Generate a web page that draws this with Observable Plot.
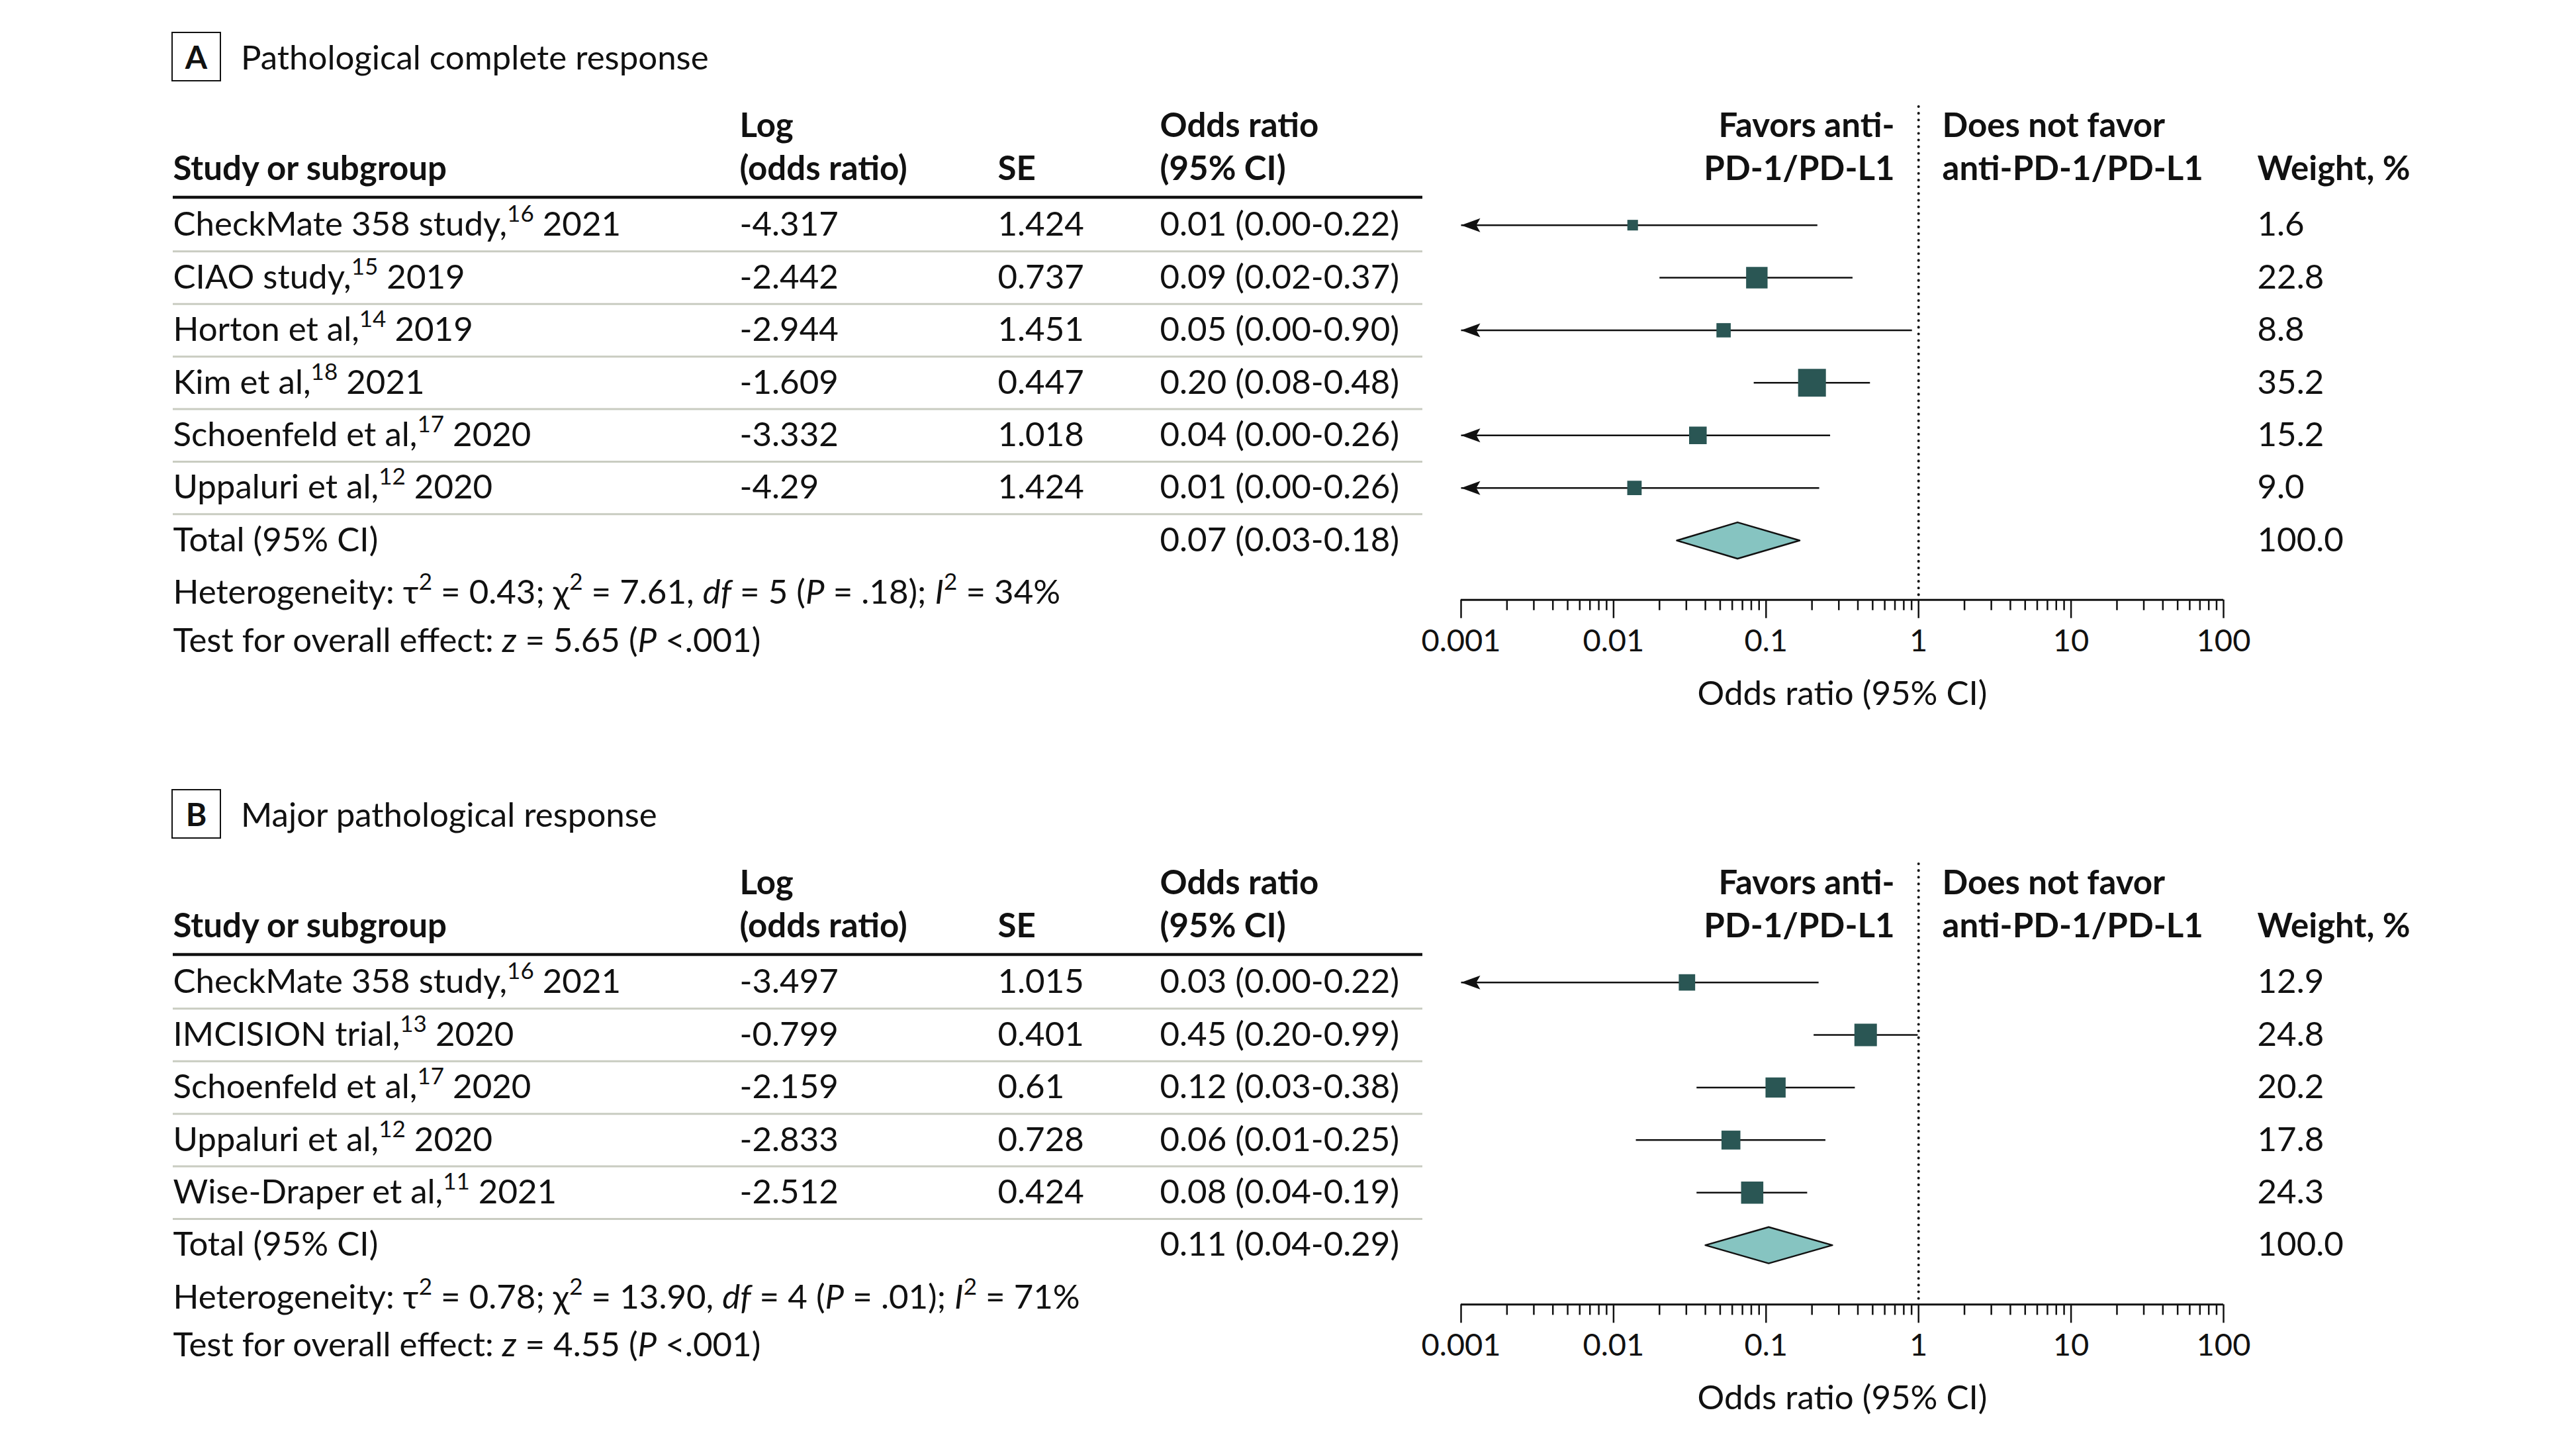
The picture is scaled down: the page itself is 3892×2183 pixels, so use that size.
<!DOCTYPE html>
<html>
<head>
<meta charset="utf-8">
<script src="https://cdn.jsdelivr.net/npm/d3@7"></script>
<script src="https://cdn.jsdelivr.net/npm/@observablehq/plot@0.6"></script>
<style>
html, body { margin: 0; padding: 0; background: #fff; }
body { width: 3892px; height: 2183px; position: relative; overflow: hidden; font-family: Lato, sans-serif; color: #111; }
.panel { position: absolute; left: 0; width: 3892px; }
.panel svg { position: absolute; left: 0; top: 0; }
.title { position: absolute; left: 259px; top: 48px; height: 75px; display: flex; align-items: center; font-size: 51px; z-index: 2; }
.title .box { box-sizing: border-box; width: 75px; height: 75px; border: 2.5px solid #111; display: flex; align-items: center; justify-content: center; font-weight: 700; font-size: 48px; margin-right: 30px; }
</style>
</head>
<body>
<script>
// ---------------- DATA ----------------
// Panel A: Pathological complete response
const pcrTitle = "Pathological complete response";
const pcrStudies = ["CheckMate 358 study,{16} 2021", "CIAO study,{15} 2019", "Horton et al,{14} 2019", "Kim et al,{18} 2021", "Schoenfeld et al,{17} 2020", "Uppaluri et al,{12} 2020"];
const pcrLogOR = [-4.317, -2.442, -2.944, -1.609, -3.332, -4.29];
const pcrSE = [1.424, 0.737, 1.451, 0.447, 1.018, 1.424];
const pcrORText = ["0.01 (0.00-0.22)", "0.09 (0.02-0.37)", "0.05 (0.00-0.90)", "0.20 (0.08-0.48)", "0.04 (0.00-0.26)", "0.01 (0.00-0.26)"];
const pcrCILow = [0, 0.020, 0, 0.083, 0, 0];          // 0 = runs off the axis (arrow)
const pcrCIHigh = [0.217, 0.369, 0.905, 0.480, 0.263, 0.223];
const pcrWeight = [1.6, 22.8, 8.8, 35.2, 15.2, 9.0];
const pcrTotalText = "0.07 (0.03-0.18)";
const pcrTotal = [0.065, 0.026, 0.166];               // estimate, low, high
const pcrHeterogeneity = "Heterogeneity: τ{2} = 0.43; χ{2} = 7.61, [df] = 5 ([P] = .18); [I]{2} = 34%";
const pcrOverall = "Test for overall effect: [z] = 5.65 ([P] <.001)";

// Panel B: Major pathological response
const mprTitle = "Major pathological response";
const mprStudies = ["CheckMate 358 study,{16} 2021", "IMCISION trial,{13} 2020", "Schoenfeld et al,{17} 2020", "Uppaluri et al,{12} 2020", "Wise-Draper et al,{11} 2021"];
const mprLogOR = [-3.497, -0.799, -2.159, -2.833, -2.512];
const mprSE = [1.015, 0.401, 0.61, 0.728, 0.424];
const mprORText = ["0.03 (0.00-0.22)", "0.45 (0.20-0.99)", "0.12 (0.03-0.38)", "0.06 (0.01-0.25)", "0.08 (0.04-0.19)"];
const mprCILow = [0, 0.205, 0.035, 0.014, 0.035];
const mprCIHigh = [0.221, 0.987, 0.382, 0.245, 0.186];
const mprWeight = [12.9, 24.8, 20.2, 17.8, 24.3];
const mprTotalText = "0.11 (0.04-0.29)";
const mprTotal = [0.104, 0.040, 0.272];
const mprHeterogeneity = "Heterogeneity: τ{2} = 0.78; χ{2} = 13.90, [df] = 4 ([P] = .01); [I]{2} = 71%";
const mprOverall = "Test for overall effect: [z] = 4.55 ([P] <.001)";

// Column headers
const headerTop = ["", "Log", "", "Odds ratio", "Favors anti-", "Does not favor", ""];
const headerBottom = ["Study or subgroup", "(odds ratio)", "SE", "(95% CI)", "PD-1/PD-L1", "anti-PD-1/PD-L1", "Weight, %"];
const totalLabel = "Total (95% CI)";
const totalWeight = 100.0;

// Axis
const axisTicks = [0.001, 0.01, 0.1, 1, 10, 100];
const axisTickLabels = ["0.001", "0.01", "0.1", "1", "10", "100"];
const axisTitle = "Odds ratio (95% CI)";

// ---------------- LAYOUT ----------------
const W = 3892, ML = 2207, MR = 533, MT = 161;
const FS = 51;
const ROW = 79.4;
const headerX = [261, 1117, 1507, 1752, 2862, 2934, 3410];
const headerAnchor = ["start", "start", "start", "start", "end", "start", "start"];
const colStudy = 261, colLog = 1117, colSE = 1507, colOR = 1752, colWeight = 3410, ruleEnd = 2149;
const ink = "#111", teal = "#2a5654", diamondFill = "#86c4c1", sepColor = "#c9ccc1";

const arrowLeft = {
  draw(ctx) { ctx.moveTo(0, 0); ctx.lineTo(29, -10.5); ctx.lineTo(23, 0); ctx.lineTo(29, 10.5); ctx.closePath(); }
};

function richText(svg, fontSize) {
  const up = Math.round(fontSize * 0.42);
  svg.querySelectorAll("text").forEach(t => {
    const s = t.textContent;
    if (!/[{\[]/.test(s)) return;
    while (t.firstChild) t.removeChild(t.firstChild);
    const re = /\{([^}]*)\}|\[([^\]]*)\]|([^{\[]+)/g;
    let m, raised = false;
    while ((m = re.exec(s))) {
      const ts = document.createElementNS("http://www.w3.org/2000/svg", "tspan");
      if (m[1] != null) {
        ts.textContent = m[1];
        ts.setAttribute("font-size", Math.round(fontSize * 0.68));
        if (!raised) ts.setAttribute("dy", -up);
        raised = true;
      } else {
        ts.textContent = m[2] != null ? m[2] : m[3];
        if (m[2] != null) ts.setAttribute("font-style", "italic");
        if (raised) { ts.setAttribute("dy", up); raised = false; }
      }
      t.appendChild(ts);
    }
  });
}

function panel(cfg) {
  const n = cfg.studies.length;
  const rows = cfg.studies.map((s, i) => ({
    i, label: s, log: String(cfg.logOR[i]), se: String(cfg.se[i]),
    est: Math.exp(cfg.logOR[i]), lo: cfg.ciLow[i], hi: cfg.ciHigh[i],
    or: cfg.orText[i], w: cfg.weight[i]
  }));
  const table = [...rows, {i: n, label: totalLabel, log: "", se: "", or: cfg.totalText, w: totalWeight}];
  const xmin = axisTicks[0];
  const yTop = -2.25, yBottom = n + 1.13;
  const marginBottom = cfg.height - MT - (yBottom - yTop) * ROW;
  const [tEst, tLo, tHi] = cfg.total;
  const dh = 0.346;
  const diamond = [
    {x: tLo, y: n}, {x: tEst, y: n - dh}, {x: tHi, y: n}, {x: tEst, y: n + dh}
  ];
  const minorTicks = d3.range(-3, 2).flatMap(e => d3.range(2, 10).map(k => +(k * Math.pow(10, e)).toPrecision(3)));
  const tickLabel = new Map(axisTicks.map((t, k) => [t, axisTickLabels[k]]));

  const marks = [];
  // headers
  headerTop.forEach((t, k) => {
    if (t) marks.push(Plot.text([t], {frameAnchor: "left", y: () => -1.877, dx: headerX[k] - ML, text: d => d, textAnchor: headerAnchor[k], fontWeight: "bold", fill: ink}));
  });
  headerBottom.forEach((t, k) => {
    marks.push(Plot.text([t], {frameAnchor: "left", y: () => -1.058, dx: headerX[k] - ML, text: d => d, textAnchor: headerAnchor[k], fontWeight: "bold", fill: ink}));
  });
  // header rule and row separators
  marks.push(Plot.ruleY([-0.53], {stroke: ink, strokeWidth: 4.5, insetLeft: colStudy - ML, insetRight: (W - MR) - ruleEnd}));
  marks.push(Plot.ruleY(d3.range(n).map(i => i + 0.5), {stroke: sepColor, strokeWidth: 3, insetLeft: colStudy - ML, insetRight: (W - MR) - ruleEnd}));
  // line of no effect (dotted)
  marks.push(Plot.ruleX([1], {stroke: ink, strokeWidth: 4, strokeDasharray: "0.1,10", strokeLinecap: "round"}));
  // axis
  marks.push(Plot.ruleY([yBottom], {stroke: ink, strokeWidth: 3}));
  marks.push(Plot.axisX(minorTicks, {anchor: "bottom", tickSize: 16, tickFormat: () => "", label: null, stroke: ink, strokeWidth: 2.5}));
  marks.push(Plot.axisX(axisTicks, {anchor: "bottom", tickSize: 28, tickPadding: 16, tickFormat: d => tickLabel.get(d), label: null, fontSize: 47, stroke: ink, strokeWidth: 2.5, fill: ink}));
  marks.push(Plot.text([axisTitle], {frameAnchor: "bottom", lineAnchor: "middle", dy: 142, text: d => d, fontSize: FS, fill: ink}));
  // CIs, arrows, squares, diamond
  marks.push(Plot.link(rows, {x1: d => Math.max(d.lo, xmin), x2: "hi", y1: "i", y2: "i", stroke: ink, strokeWidth: 2.5}));
  marks.push(Plot.dot(rows.filter(d => d.lo < xmin), {x: () => xmin, y: "i", symbol: arrowLeft, r: 5, fill: ink}));
  marks.push(Plot.dot(rows, {x: "est", y: "i", r: "w", symbol: "square", fill: teal}));
  marks.push(Plot.line(diamond, {x: "x", y: "y", fill: diamondFill, stroke: ink, strokeWidth: 2.5, curve: "linear-closed"}));
  // table columns
  marks.push(Plot.text(table, {frameAnchor: "left", y: "i", dx: colStudy - ML, text: "label", textAnchor: "start", fill: ink}));
  marks.push(Plot.text(table, {frameAnchor: "left", y: "i", dx: colLog - ML, text: "log", textAnchor: "start", fill: ink}));
  marks.push(Plot.text(table, {frameAnchor: "left", y: "i", dx: colSE - ML, text: "se", textAnchor: "start", fill: ink}));
  marks.push(Plot.text(table, {frameAnchor: "left", y: "i", dx: colOR - ML, text: "or", textAnchor: "start", fill: ink}));
  marks.push(Plot.text(table, {frameAnchor: "left", y: "i", dx: colWeight - ML, text: d => d.w.toFixed(1), textAnchor: "start", fill: ink}));
  // heterogeneity and overall effect
  marks.push(Plot.text([cfg.heterogeneity], {frameAnchor: "left", y: () => n + 1.0, dx: colStudy - ML, text: d => d, textAnchor: "start", fill: ink}));
  marks.push(Plot.text([cfg.overall], {frameAnchor: "left", y: () => n + 1.91, dx: colStudy - ML, text: d => d, textAnchor: "start", fill: ink}));

  const svg = Plot.plot({
    width: W, height: cfg.height,
    marginLeft: ML, marginRight: MR, marginTop: MT, marginBottom,
    style: {fontFamily: "Lato, sans-serif", fontSize: FS + "px", color: ink, background: "white", overflow: "visible"},
    x: {type: "log", domain: [axisTicks[0], axisTicks[axisTicks.length - 1]]},
    y: {domain: [yTop, yBottom], reverse: true, axis: null},
    r: {type: "linear", domain: [0, 35.2], range: [14.8 / Math.sqrt(Math.PI), 42 / Math.sqrt(Math.PI)]},
    marks
  });
  richText(svg, FS);

  const div = document.createElement("div");
  div.className = "panel";
  div.style.top = cfg.top + "px";
  div.style.height = cfg.height + "px";
  const title = document.createElement("div");
  title.className = "title";
  const box = document.createElement("span");
  box.className = "box";
  box.textContent = cfg.letter;
  title.appendChild(box);
  title.appendChild(document.createTextNode(cfg.title));
  div.appendChild(svg);
  div.appendChild(title);
  document.body.appendChild(div);
}

panel({letter: "A", title: pcrTitle, top: 0, height: 1144,
  studies: pcrStudies, logOR: pcrLogOR, se: pcrSE, orText: pcrORText, ciLow: pcrCILow, ciHigh: pcrCIHigh,
  weight: pcrWeight, totalText: pcrTotalText, total: pcrTotal, heterogeneity: pcrHeterogeneity, overall: pcrOverall});
panel({letter: "B", title: mprTitle, top: 1144, height: 1039,
  studies: mprStudies, logOR: mprLogOR, se: mprSE, orText: mprORText, ciLow: mprCILow, ciHigh: mprCIHigh,
  weight: mprWeight, totalText: mprTotalText, total: mprTotal, heterogeneity: mprHeterogeneity, overall: mprOverall});
</script>
</body>
</html>
